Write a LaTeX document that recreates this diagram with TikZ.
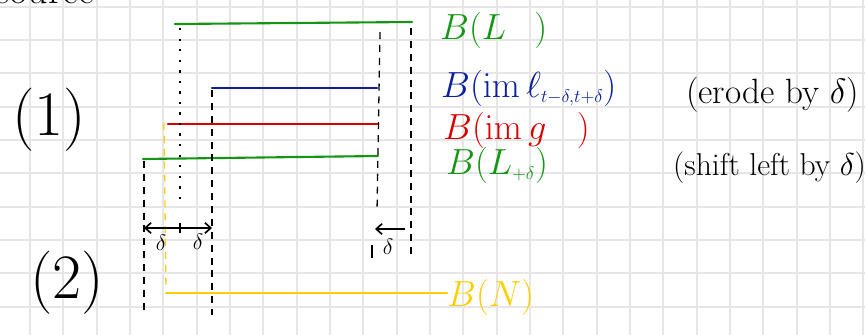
\documentclass[tikz,border=0pt]{standalone}
\usepackage{fix-cm}
\usetikzlibrary{positioning,arrows.meta}
\definecolor{penGreen}{RGB}{20,150,20}
\definecolor{penBlue}{RGB}{10,30,160}
\definecolor{penRed}{RGB}{215,0,0}
\definecolor{penYellow}{RGB}{255,205,0}
\definecolor{gridGray}{RGB}{230,230,230}
\tikzset{
  gridline/.style={draw=gridGray,line width=1.5pt},
  band/.style={line width=1.8pt,line cap=round},
  guide/.style={line width=1.1pt,dash pattern=on 6pt off 5pt},
  guidedots/.style={line width=1.1pt,dash pattern=on 2pt off 7pt},
  lbl/.style={anchor=base west,inner sep=0pt,font=\fontsize{31}{31}\selectfont},
  note/.style={anchor=base west,inner sep=0pt,font=\fontsize{30}{30}\selectfont},
  tag/.style={anchor=base west,inner sep=0pt,font=\fontsize{54}{54}\selectfont},
  dlt/.style={inner sep=0pt,font=\fontsize{19}{19}\selectfont},
  shiftarrow/.style={->,>={Straight Barb[length=5pt,width=9pt]},line width=1.4pt},
}
\begin{document}
\begin{tikzpicture}[x=0.03cm,y=-0.03cm]
  \useasboundingbox (0,0) rectangle (865,335);
  \fill[white] (0,0) rectangle (865,335);

  % grid paper
  \foreach \i in {1,...,26}
    \draw[gridline] ({-3.33+33.333*\i},0) -- ++(0,335);
  \foreach \j in {0,...,9}
    \draw[gridline] (0,{6.67+33.333*\j}) -- ++(865,0);

  % word cut off at the top
  \node[anchor=base east,inner sep=0pt,font=\fontsize{34}{34}\selectfont] (head) at (95,4) {source};

  % (1) and (2)
  \node[tag] (tag1) at (12,135) {(1)};
  \node[tag] (tag2) at (30,298) {(2)};

  % labels
  \node[lbl,text=penGreen] (lblL) at (440,39) {$B(L\hspace{24pt})$};
  \node[lbl,text=penBlue] (lblIm) at (441,97) {$B(\mathrm{im}\,\ell_{\scriptscriptstyle t-\delta,t+\delta})$};
  \node[lbl,text=penRed] (lblG) at (443,139) {$B(\mathrm{im}\,g\hspace{26pt})$};
  \node[lbl,text=penGreen] (lblLs) at (446,174) {$B(L_{\scriptscriptstyle +\delta})$};
  \node[lbl,text=penYellow] (lblN) at (447,306) {$B(N)$};

  \node[note] (noteErode) at (686,103) {(erode by $\delta$)};
  \node[note,font=\fontsize{27}{27}\selectfont] (noteShift) at (673,175) {(shift left by $\delta$)};

  % the bands
  \coordinate (L-a) at (175,24);  \coordinate (L-b) at (412,22);
  \coordinate (I-a) at (212,88);  \coordinate (I-b) at (377,88);
  \coordinate (G-a) at (168,124); \coordinate (G-b) at (378,124);
  \coordinate (S-a) at (143,159); \coordinate (S-b) at (378,156);
  \coordinate (N-a) at (166,293);
  \draw[band,penGreen] (L-a) -- (L-b);
  \draw[band,penBlue] (I-a) -- (I-b);
  \draw[band,penRed] (G-a) -- (G-b);
  \draw[band,penGreen] (S-a) -- (S-b);
  \draw[band,penYellow] (N-a) -- (N-a -| lblN.west);

  % guide lines
  \coordinate (v1-a) at (180,28);  \coordinate (v1-b) at (180,207);
  \coordinate (v2-a) at (212,90);  \coordinate (v2-b) at (212,315);
  \coordinate (v3-a) at (144,161); \coordinate (v3-b) at (144,313);
  \coordinate (v4-a) at (164,123); \coordinate (v4-b) at (166,290);
  \coordinate (v5-a) at (380,32);  \coordinate (v5-b) at (377,212);
  \coordinate (v6-a) at (411,28);  \coordinate (v6-b) at (411,255);
  \draw[guidedots] (v1-a) -- (v1-b);
  \draw[guide] (v2-a) -- (v2-b);
  \draw[guide] (v3-a) -- (v3-b);
  \draw[guide,penYellow] (v4-a) -- (v4-b);
  \draw[guide] (v5-a) -- (v5-b);
  \draw[guide] (v6-a) -- (v6-b);

  % shifts by delta
  \coordinate (aL) at (144,228); \coordinate (aM) at (180,228); \coordinate (aR) at (212,228);
  \draw[shiftarrow] (aM) -- (aL);
  \draw[shiftarrow] (aM) -- (aR);
  \draw[line width=1.2pt] (180,223) -- (180,233);
  \node[dlt] (d1) at (161,243) {$\delta$};
  \node[dlt] (d2) at (198,242) {$\delta$};

  \coordinate (bR) at (405,229); \coordinate (bL) at (375,229);
  \draw[shiftarrow] (bR) -- (bL);
  \draw[line width=1.2pt] (372,245) -- (372,258);
  \node[dlt] (d3) at (388,247) {$\delta$};
\end{tikzpicture}
\end{document}
